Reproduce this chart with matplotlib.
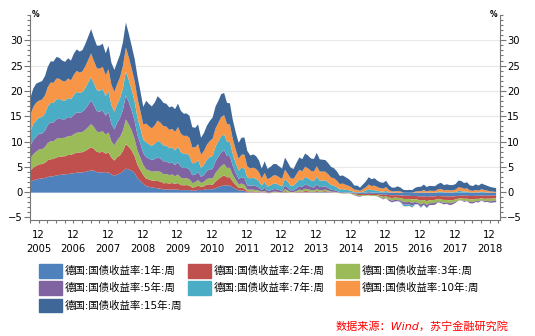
import numpy as np
import pandas as pd
import matplotlib
matplotlib.use('Agg')
import matplotlib.pyplot as plt
import matplotlib.dates as mdates
from matplotlib.ticker import MultipleLocator
from matplotlib.patches import Rectangle

plt.rcParams['font.family'] = ['DejaVu Sans', 'Noto Sans CJK SC']

# monthly readings, Sep 2005 .. Feb 2019 (%)
dates = pd.date_range('2005-09-01', periods=162, freq='MS')

y1 = [2.15, 2.4, 2.6, 2.75,
      2.8, 2.9, 3.1, 3.2, 3.25, 3.4, 3.5, 3.55, 3.6, 3.7, 3.75, 3.85,
      3.95, 4.0, 4.0, 4.1, 4.25, 4.4, 4.35, 4.05, 4.0, 4.05, 3.9, 4.0,
      3.6, 3.35, 3.6, 3.8, 4.2, 4.75, 4.6, 4.35, 3.9, 2.9, 2.3, 1.75,
      1.3, 1.15, 1.05, 0.95, 0.85, 0.8, 0.6, 0.65, 0.6, 0.65, 0.6, 0.6,
      0.5, 0.5, 0.5, 0.5, 0.4, 0.4, 0.55, 0.5, 0.55, 0.7, 0.7, 0.65,
      0.9, 1.1, 1.3, 1.45, 1.4, 1.4, 1.05, 0.75, 0.45, 0.45, 0.35, 0.1,
      0.05, 0.05, 0.05, 0.05, 0.03, 0.05, -0.05, -0.05, 0.0, 0.0, -0.01, -0.02,
      0.08, 0.03, 0.0, 0.0, 0.02, 0.06, 0.05, 0.08, 0.08, 0.07, 0.06, 0.12,
      0.1, 0.1, 0.12, 0.1, 0.05, 0.02, 0.02, -0.02, -0.06, -0.06, -0.06, -0.1,
      -0.17, -0.22, -0.25, -0.25, -0.24, -0.24, -0.25, -0.25, -0.27, -0.35, -0.42, -0.4,
      -0.48, -0.52, -0.5, -0.52, -0.54, -0.6, -0.62, -0.62, -0.66, -0.65, -0.7, -0.8,
      -0.72, -0.85, -0.75, -0.75, -0.72, -0.65, -0.7, -0.72, -0.74, -0.78, -0.75, -0.72,
      -0.62, -0.6, -0.62, -0.6, -0.65, -0.65, -0.62, -0.62, -0.58, -0.62, -0.6, -0.6,
      -0.6, -0.55]

y2 = [2.25, 2.55, 2.7, 2.85,
      2.85, 3.0, 3.3, 3.4, 3.4, 3.55, 3.6, 3.6, 3.6, 3.75, 3.7, 3.85,
      3.95, 3.95, 4.0, 4.15, 4.35, 4.55, 4.3, 4.0, 3.95, 4.05, 3.8, 3.95,
      3.3, 3.0, 3.4, 3.6, 4.05, 4.85, 4.45, 4.0, 3.3, 2.6, 2.15, 1.75,
      1.45, 1.45, 1.35, 1.4, 1.45, 1.4, 1.25, 1.25, 1.2, 1.25, 1.15, 1.3,
      1.0, 0.95, 1.0, 0.9, 0.6, 0.7, 0.85, 0.6, 0.7, 0.9, 0.95, 0.9,
      1.3, 1.6, 1.8, 1.95, 1.65, 1.65, 1.15, 0.8, 0.5, 0.55, 0.45, 0.15,
      0.2, 0.2, 0.15, 0.1, 0.03, 0.1, -0.05, -0.05, 0.05, 0.05, 0.0, -0.02,
      0.25, 0.1, 0.0, 0.03, 0.1, 0.2, 0.12, 0.25, 0.2, 0.13, 0.1, 0.2,
      0.1, 0.15, 0.18, 0.12, 0.05, 0.05, 0.03, -0.05, -0.07, -0.06, -0.03, -0.1,
      -0.18, -0.22, -0.25, -0.2, -0.22, -0.22, -0.25, -0.25, -0.25, -0.32, -0.42, -0.35,
      -0.5, -0.55, -0.48, -0.5, -0.52, -0.65, -0.63, -0.62, -0.68, -0.63, -0.7, -0.8,
      -0.72, -0.85, -0.75, -0.72, -0.7, -0.57, -0.67, -0.72, -0.69, -0.74, -0.72, -0.63,
      -0.55, -0.55, -0.6, -0.58, -0.67, -0.68, -0.6, -0.62, -0.52, -0.62, -0.58, -0.61,
      -0.57, -0.52]

y3 = [2.35, 2.65, 2.8, 2.95,
      2.95, 3.1, 3.4, 3.55, 3.5, 3.7, 3.7, 3.65, 3.65, 3.75, 3.7, 3.85,
      3.95, 3.95, 4.0, 4.15, 4.35, 4.6, 4.3, 4.0, 4.0, 4.05, 3.75, 3.95,
      3.25, 3.0, 3.35, 3.65, 4.0, 4.85, 4.45, 3.95, 3.4, 2.8, 2.45, 2.0,
      1.85, 1.8, 1.75, 1.85, 1.95, 1.9, 1.8, 1.8, 1.65, 1.7, 1.5, 1.7,
      1.45, 1.35, 1.35, 1.25, 0.9, 0.95, 1.1, 0.8, 0.9, 1.1, 1.2, 1.25,
      1.7, 1.95, 2.15, 2.25, 1.85, 1.85, 1.35, 1.0, 0.7, 0.8, 0.75, 0.35,
      0.35, 0.35, 0.3, 0.25, 0.1, 0.2, 0.0, 0.05, 0.15, 0.15, 0.1, 0.05,
      0.4, 0.25, 0.1, 0.1, 0.2, 0.35, 0.3, 0.45, 0.4, 0.3, 0.25, 0.4,
      0.25, 0.25, 0.3, 0.2, 0.1, 0.1, 0.05, -0.05, -0.05, -0.05, -0.03, -0.08,
      -0.15, -0.2, -0.23, -0.17, -0.15, -0.1, -0.18, -0.16, -0.2, -0.25, -0.35, -0.3,
      -0.42, -0.52, -0.45, -0.45, -0.48, -0.62, -0.63, -0.6, -0.67, -0.58, -0.6, -0.75,
      -0.6, -0.75, -0.6, -0.6, -0.6, -0.45, -0.5, -0.58, -0.52, -0.6, -0.55, -0.45,
      -0.35, -0.35, -0.45, -0.4, -0.52, -0.5, -0.45, -0.45, -0.35, -0.45, -0.45, -0.5,
      -0.45, -0.45]

y5 = [2.6, 2.85, 3.0, 3.1,
      3.1, 3.25, 3.55, 3.75, 3.7, 3.85, 3.8, 3.7, 3.65, 3.75, 3.65, 3.85,
      4.0, 3.9, 3.95, 4.15, 4.4, 4.65, 4.3, 4.05, 4.05, 4.1, 3.75, 4.0,
      3.4, 3.15, 3.45, 3.75, 4.1, 4.75, 4.4, 3.95, 3.6, 3.05, 2.75, 2.3,
      2.4, 2.3, 2.3, 2.45, 2.7, 2.65, 2.55, 2.5, 2.35, 2.35, 2.2, 2.4,
      2.15, 2.05, 2.05, 1.95, 1.55, 1.55, 1.6, 1.2, 1.35, 1.6, 1.75, 1.85,
      2.3, 2.5, 2.7, 2.75, 2.35, 2.3, 1.75, 1.35, 1.05, 1.25, 1.3, 0.8,
      0.8, 0.85, 0.8, 0.6, 0.35, 0.6, 0.3, 0.4, 0.5, 0.5, 0.4, 0.3,
      0.7, 0.55, 0.35, 0.35, 0.5, 0.7, 0.65, 0.85, 0.75, 0.65, 0.6, 0.9,
      0.65, 0.65, 0.65, 0.5, 0.35, 0.35, 0.2, 0.1, 0.1, 0.05, 0.05, 0.0,
      -0.05, -0.08, -0.1, 0.0, 0.05, 0.15, 0.05, 0.05, -0.05, -0.1, -0.15, -0.05,
      -0.25, -0.3, -0.3, -0.2, -0.3, -0.5, -0.5, -0.5, -0.55, -0.4, -0.3, -0.5,
      -0.35, -0.5, -0.35, -0.38, -0.35, -0.2, -0.2, -0.3, -0.25, -0.35, -0.3, -0.2,
      -0.05, -0.05, -0.15, -0.1, -0.25, -0.3, -0.2, -0.25, -0.1, -0.2, -0.2, -0.3,
      -0.3, -0.32]

y7 = [2.85, 3.1, 3.2, 3.2,
      3.25, 3.4, 3.65, 3.85, 3.85, 3.95, 3.9, 3.75, 3.7, 3.75, 3.65, 3.9,
      4.05, 3.92, 3.95, 4.15, 4.4, 4.65, 4.35, 4.15, 4.15, 4.2, 3.9, 4.15,
      3.7, 3.5, 3.65, 3.9, 4.25, 4.75, 4.4, 4.05, 3.8, 3.45, 3.05, 2.65,
      2.95, 2.85, 2.8, 3.0, 3.3, 3.2, 3.15, 3.1, 2.95, 3.0, 2.9, 3.1,
      2.9, 2.8, 2.8, 2.75, 2.35, 2.3, 2.35, 1.8, 2.0, 2.2, 2.45, 2.6,
      2.9, 3.05, 3.2, 3.15, 2.85, 2.8, 2.35, 1.95, 1.65, 1.9, 1.95, 1.5,
      1.45, 1.5, 1.45, 1.25, 0.9, 1.2, 0.9, 1.0, 1.1, 1.1, 1.0, 0.9,
      1.3, 1.15, 0.95, 0.9, 1.15, 1.35, 1.3, 1.5, 1.4, 1.3, 1.3, 1.55,
      1.3, 1.25, 1.2, 1.1, 0.95, 0.9, 0.75, 0.55, 0.6, 0.5, 0.45, 0.35,
      0.15, 0.1, 0.05, 0.2, 0.35, 0.55, 0.45, 0.45, 0.35, 0.25, 0.2, 0.35,
      0.05, -0.05, -0.05, 0.0, -0.05, -0.3, -0.3, -0.3, -0.35, -0.1, 0.0, -0.15,
      0.05, -0.15, 0.0, 0.0, 0.0, 0.15, 0.2, 0.05, 0.1, 0.05, 0.05, 0.15,
      0.35, 0.3, 0.2, 0.25, 0.05, 0.0, 0.1, 0.05, 0.2, 0.1, 0.05, 0.0,
      -0.05, -0.05]

y10 = [3.15, 3.4, 3.5, 3.35,
       3.45, 3.6, 3.8, 4.0, 4.0, 4.1, 4.0, 3.85, 3.75, 3.85, 3.75, 4.0,
       4.15, 4.0, 4.05, 4.25, 4.45, 4.65, 4.4, 4.3, 4.35, 4.4, 4.1, 4.35,
       4.05, 3.95, 4.0, 4.15, 4.45, 4.7, 4.45, 4.2, 4.05, 3.9, 3.4, 3.0,
       3.7, 3.55, 3.45, 3.65, 4.0, 3.85, 3.8, 3.75, 3.65, 3.65, 3.65, 3.85,
       3.65, 3.55, 3.55, 3.5, 3.15, 3.05, 3.15, 2.6, 2.75, 2.95, 3.15, 3.4,
       3.6, 3.65, 3.8, 3.75, 3.5, 3.45, 3.0, 2.65, 2.35, 2.55, 2.7, 2.3,
       1.95, 2.0, 1.95, 1.8, 1.4, 1.75, 1.45, 1.5, 1.6, 1.6, 1.55, 1.45,
       1.8, 1.6, 1.45, 1.35, 1.65, 1.85, 1.8, 2.0, 1.95, 1.85, 1.85, 2.05,
       1.8, 1.75, 1.7, 1.6, 1.5, 1.4, 1.3, 1.05, 1.1, 1.0, 0.85, 0.7,
       0.45, 0.45, 0.3, 0.5, 0.65, 0.9, 0.8, 0.9, 0.75, 0.65, 0.6, 0.75,
       0.45, 0.25, 0.25, 0.35, 0.25, 0.0, -0.05, 0.0, -0.05, 0.2, 0.3, 0.3,
       0.45, 0.25, 0.4, 0.35, 0.35, 0.5, 0.55, 0.4, 0.45, 0.4, 0.4, 0.45,
       0.7, 0.68, 0.55, 0.6, 0.4, 0.35, 0.45, 0.35, 0.5, 0.42, 0.35, 0.28,
       0.2, 0.15]

y15 = [3.45, 3.65, 3.75, 3.6,
       3.65, 3.8, 4.0, 4.2, 4.2, 4.25, 4.15, 4.0, 3.9, 4.0, 3.9, 4.15,
       4.25, 4.15, 4.2, 4.4, 4.6, 4.8, 4.6, 4.5, 4.55, 4.6, 4.35, 4.6,
       4.35, 4.3, 4.3, 4.45, 4.7, 4.95, 4.7, 4.5, 4.4, 4.3, 3.9, 3.5,
       4.5, 4.4, 4.35, 4.5, 4.8, 4.7, 4.6, 4.5, 4.45, 4.45, 4.5, 4.65,
       4.5, 4.4, 4.4, 4.35, 4.0, 3.85, 3.9, 3.35, 3.55, 3.75, 3.95, 4.2,
       4.35, 4.35, 4.5, 4.4, 4.15, 4.2, 3.75, 3.45, 3.15, 3.35, 3.4, 3.05,
       2.55, 2.6, 2.55, 2.35, 1.95, 2.3, 2.05, 2.15, 2.25, 2.25, 2.15, 2.05,
       2.4, 2.25, 2.1, 1.95, 2.25, 2.45, 2.4, 2.6, 2.55, 2.45, 2.5, 2.65,
       2.4, 2.35, 2.3, 2.2, 2.1, 2.0, 1.85, 1.6, 1.6, 1.5, 1.35, 1.15,
       0.8, 0.85, 0.65, 0.9, 1.15, 1.45, 1.35, 1.45, 1.25, 1.15, 1.15, 1.25,
       0.95, 0.75, 0.75, 0.9, 0.75, 0.55, 0.5, 0.55, 0.5, 0.75, 0.85, 0.85,
       1.1, 0.85, 0.95, 0.95, 0.95, 1.1, 1.2, 1.05, 1.1, 1.05, 1.05, 1.1,
       1.35, 1.3, 1.15, 1.2, 1.0, 0.95, 1.1, 1.0, 1.1, 1.05, 0.95, 0.85,
       0.8, 0.75]

names = ['德国:国债收益率:1年:周', '德国:国债收益率:2年:周', '德国:国债收益率:3年:周',
         '德国:国债收益率:5年:周', '德国:国债收益率:7年:周', '德国:国债收益率:10年:周',
         '德国:国债收益率:15年:周']
colors = ['#4F81BD', '#C0504D', '#9BBB59', '#8064A2', '#4BACC6', '#F79646', '#3F6899']
series = [y1, y2, y3, y5, y7, y10, y15]

W, H = 535, 336
fig = plt.figure(figsize=(W / 100, H / 100), dpi=100)
ax = fig.add_axes([30 / W, 1 - 220 / H, 470 / W, 205 / H])

for g in range(5, 31, 5):
    ax.axhline(g, color='#E8E8E8', lw=0.8, zorder=0)

# positives stack up from 0, negatives stack down from 0
pos_base = np.zeros(len(dates))
neg_base = np.zeros(len(dates))
for vals, c in zip(series, colors):
    v = np.asarray(vals, dtype=float)
    p = np.clip(v, 0, None)
    n = np.clip(v, None, 0)
    ax.fill_between(dates, pos_base, pos_base + p, color=c, lw=0, zorder=2)
    ax.fill_between(dates, neg_base, neg_base + n, color=c, lw=0, zorder=2)
    pos_base += p
    neg_base += n

ax.set_ylim(-5.5, 35)
ax.set_yticks(range(-5, 31, 5))
ax.yaxis.set_minor_locator(MultipleLocator(1))
ax.tick_params(axis='y', which='both', left=True, right=True,
               labelleft=True, labelright=True, direction='out', color='#777777')
ax.tick_params(axis='y', which='major', length=4, width=0.8, pad=1, labelsize=7.2)
ax.tick_params(axis='y', which='minor', length=2, width=0.8)

ax.set_xlim(pd.Timestamp('2005-09-01'), pd.Timestamp('2019-03-19'))
ax.xaxis.set_major_locator(mdates.MonthLocator(bymonth=12))
ax.xaxis.set_minor_locator(mdates.MonthLocator(bymonth=[3, 6, 9]))
ax.xaxis.set_major_formatter(mdates.DateFormatter('%m\n%Y'))
ax.tick_params(axis='x', which='both', direction='out', length=2.5, width=0.8,
               color='#777777', labelsize=7.2, pad=5)
plt.setp(ax.get_xticklabels(), linespacing=1.5)

ax.spines['top'].set_visible(False)
for s in ['left', 'right', 'bottom']:
    ax.spines[s].set_color('#777777')
    ax.spines[s].set_linewidth(0.8)

fig.text(32 / W, 1 - 14.5 / H, '%', fontsize=5.5, fontweight='bold', ha='left', va='center')
fig.text(497 / W, 1 - 14.5 / H, '%', fontsize=5.5, fontweight='bold', ha='right', va='center')

# legend, three per row
col_x = [39, 188, 336]
row_y = [271, 288, 305.5]
for i, (name, c) in enumerate(zip(names, colors)):
    r, k = divmod(i, 3)
    fig.patches.append(Rectangle((col_x[k] / W, 1 - (row_y[r] + 6.7) / H), 23 / W, 13.4 / H,
                                 transform=fig.transFigure, color=c))
    fig.text((col_x[k] + 26) / W, 1 - row_y[r] / H, name, fontsize=7.5, ha='left', va='center')

fig.text(508 / W, 1 - 326 / H, '数据来源：Wind，苏宁金融研究院', color='red', fontsize=8,
         style='italic', ha='right', va='center')

fig.savefig('out.png', dpi=100)
